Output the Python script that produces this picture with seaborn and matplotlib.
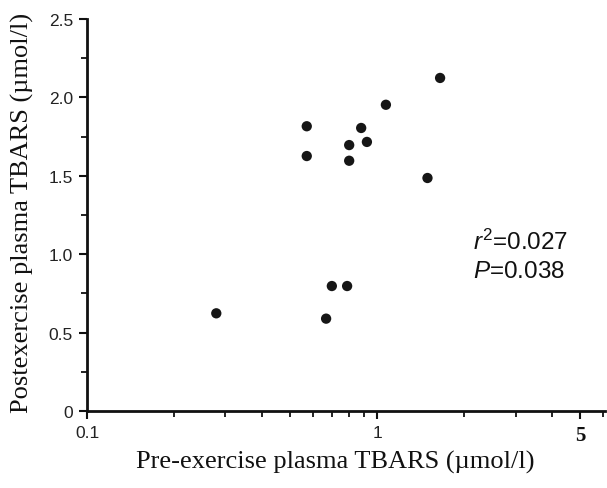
import matplotlib
matplotlib.use("Agg")
import matplotlib.pyplot as plt
import matplotlib.ticker as mticker
import seaborn as sns
import pandas as pd

# Data
pre_tbars = [0.279, 0.572, 0.572, 0.667, 0.698, 0.788, 0.801, 0.801, 0.881, 0.922, 1.072, 1.491, 1.648]
post_tbars = [0.623, 1.816, 1.626, 0.589, 0.797, 0.797, 1.696, 1.596, 1.805, 1.716, 1.953, 1.486, 2.124]
x_ticks = [0.1, 1, 5]
x_tick_labels = ["0.1", "1", "5"]
y_ticks = [0, 0.5, 1.0, 1.5, 2.0, 2.5]
y_tick_labels = ["0", "0.5", "1.0", "1.5", "2.0", "2.5"]
stats_text = [r"$r^2$=0.027", r"$P$=0.038"]

sns.set_style("ticks")
plt.rcParams["font.family"] = ["Liberation Sans", "DejaVu Sans"]
plt.rcParams["mathtext.fontset"] = "custom"
plt.rcParams["mathtext.rm"] = "Liberation Sans"
plt.rcParams["mathtext.it"] = "Liberation Sans:italic"

df = pd.DataFrame({"pre": pre_tbars, "post": post_tbars})

fig = plt.figure(figsize=(6.07, 4.89), dpi=100)
ax = fig.add_axes([87 / 607, 1 - 412 / 489, (605 - 87) / 607, (412 - 20) / 489])

sns.scatterplot(data=df, x="pre", y="post", ax=ax, color="#161616", s=55,
                edgecolor="none", linewidth=0, legend=False)

ax.set_xscale("log")
ax.set_xlim(0.1, 6.1)
ax.set_ylim(0, 2.5)

ax.set_xticks(x_ticks)
ax.set_xticklabels(x_tick_labels)
ax.xaxis.set_minor_locator(mticker.FixedLocator([0.2, 0.3, 0.4, 0.5, 0.6, 0.7, 0.8, 0.9, 2, 3, 4, 6]))
ax.xaxis.set_minor_formatter(mticker.NullFormatter())
ax.set_yticks(y_ticks)
ax.set_yticklabels(y_tick_labels)
ax.yaxis.set_minor_locator(mticker.FixedLocator([0.25, 0.75, 1.25, 1.75, 2.25]))

for lbl in ax.get_xticklabels() + ax.get_yticklabels():
    lbl.set_fontsize(12.5)
    lbl.set_color("#222222")
five = ax.get_xticklabels()[2]
five.set_fontfamily("Liberation Serif")
five.set_fontweight("bold")
five.set_fontsize(15)
five.set_color("#111111")

ax.tick_params(axis="both", which="major", direction="out", length=6, width=1.5, color="#111111", pad=4)
ax.tick_params(axis="both", which="minor", direction="out", length=4, width=1.3, color="#111111")

sns.despine(ax=ax)
for side in ["left", "bottom"]:
    ax.spines[side].set_linewidth(2)
    ax.spines[side].set_color("#111111")

ax.set_xlabel("")
ax.set_ylabel("")
fig.text(335 / 607, 1 - 462 / 489, "Pre-exercise plasma TBARS (\u00b5mol/l)",
         ha="center", va="center", fontsize=19, family="Liberation Serif", color="#111111")
fig.text(22 / 607, 1 - 213 / 489, "Postexercise plasma TBARS (\u00b5mol/l)",
         ha="center", va="center", rotation=90, fontsize=19, family="Liberation Serif", color="#111111")

ax.text(2.14, 1.084, stats_text[0], fontsize=17.5, ha="left", va="center", color="#111111")
ax.text(2.14, 0.893, stats_text[1], fontsize=17.5, ha="left", va="center", color="#111111")

fig.savefig("out.png", dpi=100)
